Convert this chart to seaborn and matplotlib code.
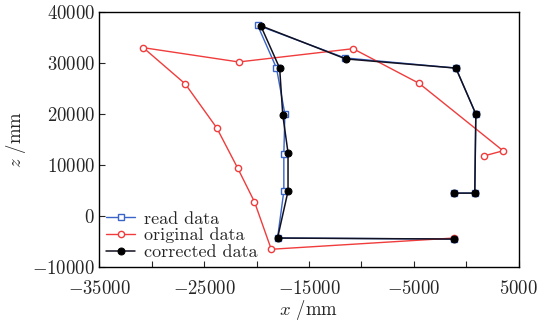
import numpy as np
import pandas as pd
import matplotlib
matplotlib.use("Agg")
import matplotlib.pyplot as plt
import seaborn as sns
from matplotlib.ticker import MultipleLocator

# --- data (mm) ---
read_x = [-1200, 800, 900, -1000, -11600, -19900, -18100, -17300, -17400, -17400, -18000, -1200]
read_z = [4500, 4500, 20000, 29000, 31000, 37400, 29000, 20000, 12200, 4900, -4300, -4500]

orig_x = [1700, 3500, -4500, -10800, -21700, -30800, -26800, -23800, -21800, -20200, -18600, -1200]
orig_z = [11800, 12800, 26000, 32800, 30200, 33000, 25900, 17300, 9400, 2800, -6500, -4300]

corr_x = [-1200, 800, 900, -1000, -11500, -19600, -17800, -17500, -17000, -17000, -18000, -1200]
corr_z = [4500, 4500, 20000, 29000, 30800, 37300, 29000, 19800, 12400, 4900, -4300, -4500]

x_major = [-35000, -25000, -15000, -5000, 5000]

sns.set_theme(style="ticks")
plt.rcParams["font.family"] = ["cmr10", "DejaVu Serif"]
plt.rcParams["mathtext.fontset"] = "cm"
plt.rcParams["axes.formatter.use_mathtext"] = True
plt.rcParams["axes.unicode_minus"] = True

fig = plt.figure(figsize=(5.45, 3.23), dpi=100)
ax = fig.add_axes([0.182, 0.173, 0.770, 0.790])

sns.lineplot(x=read_x, y=read_z, sort=False, estimator=None, ax=ax,
             color="#3a64c8", lw=1.0, marker="s", markersize=4.5,
             markerfacecolor="white", markeredgecolor="#3a64c8",
             markeredgewidth=1.0, label="read data")
sns.lineplot(x=orig_x, y=orig_z, sort=False, estimator=None, ax=ax,
             color="#f03c3c", lw=1.0, marker="o", markersize=4.5,
             markerfacecolor="white", markeredgecolor="#f03c3c",
             markeredgewidth=1.0, label="original data")
sns.lineplot(x=corr_x, y=corr_z, sort=False, estimator=None, ax=ax,
             color="#111122", lw=1.1, marker="o", markersize=5,
             markerfacecolor="black", markeredgecolor="black",
             label="corrected data")

ax.set_xlim(-35000, 5000)
ax.set_ylim(-10000, 40000)
ax.set_xticks(x_major)
ax.xaxis.set_minor_locator(MultipleLocator(5000))
ax.yaxis.set_major_locator(MultipleLocator(10000))
ax.tick_params(axis="both", which="both", direction="in", length=4,
               width=0.8, labelsize=13.5, top=False, right=False, pad=3)
ax.tick_params(axis="x", which="both", pad=9)
for s in ax.spines.values():
    s.set_linewidth(1.0)
    s.set_color("black")

ax.set_xlabel("$x$ /mm", fontsize=13.5, labelpad=0)
ax.set_ylabel("$z$ /mm", fontsize=13.5, labelpad=3)

ax.legend(loc="lower left", frameon=False, fontsize=13, handlelength=1.6,
          handletextpad=0.5, labelspacing=0.05, borderaxespad=0.2,
          borderpad=0.2)

fig.savefig("out.png", dpi=100)
